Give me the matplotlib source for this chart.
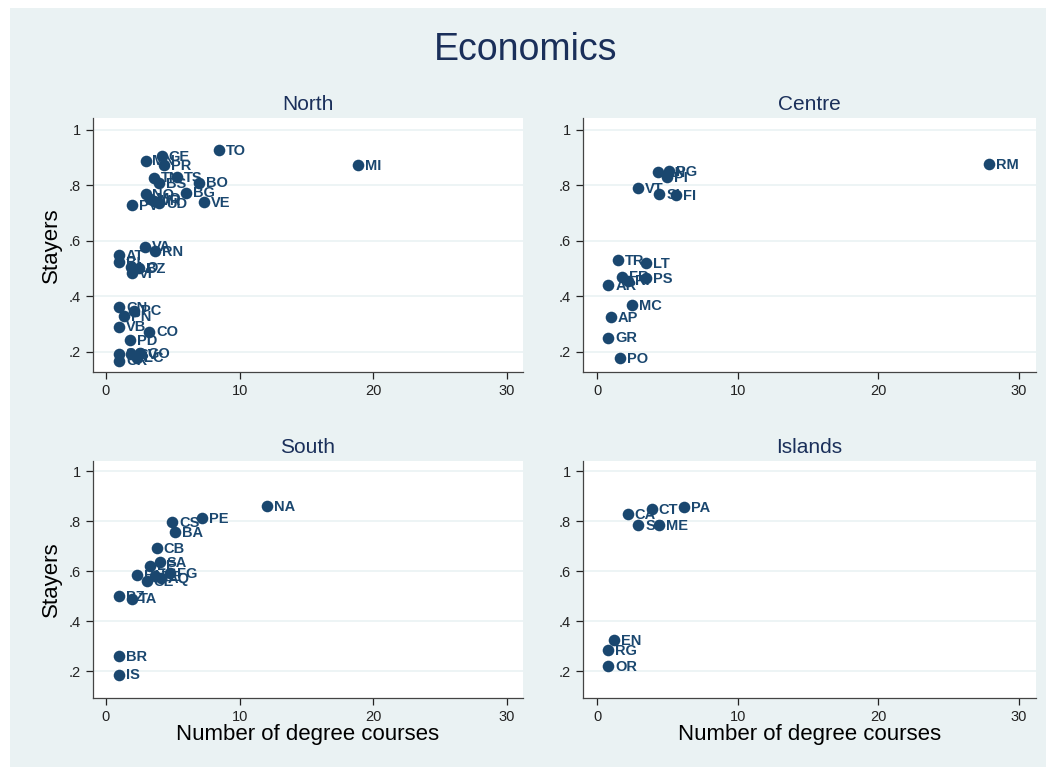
import matplotlib
matplotlib.use("Agg")
import matplotlib.pyplot as plt
from matplotlib.patches import Rectangle

plt.rcParams['font.family'] = ['Liberation Sans', 'DejaVu Sans']

NAVY = '#1a476f'
DARK = '#1a2f5a'
BG = '#eaf2f3'

# stayers share vs number of degree courses, by area
north_lab = ['TO', 'MI', 'GE', 'MN', 'PR', 'TN', 'TS', 'BS', 'BO', 'BG', 'VE', 'PV',
             'NO', 'MO', 'VR', 'UD', 'VA', 'RN', 'AT', 'BI', 'BZ', 'LO', 'VI',
             'CN', 'PC', 'PN', 'VB', 'CO', 'PD', 'GO', 'SV', 'LC', 'SO', 'CR']
north_x = [8.45, 18.85, 4.16, 2.96, 4.36, 3.62, 5.33, 3.99, 6.98, 5.98, 7.35, 1.97,
           2.96, 3.3, 3.6, 4.0, 2.95, 3.66, 0.97, 0.97, 2.5, 1.9, 1.97,
           0.97, 2.12, 1.35, 0.97, 3.22, 1.8, 2.55, 1.9, 2.3, 0.97, 0.97]
north_y = [0.928, 0.874, 0.906, 0.889, 0.874, 0.828, 0.829, 0.807, 0.81, 0.774, 0.738, 0.728,
           0.768, 0.752, 0.745, 0.735, 0.578, 0.562, 0.547, 0.523, 0.501, 0.505, 0.484,
           0.36, 0.347, 0.328, 0.29, 0.272, 0.242, 0.194, 0.19, 0.178, 0.192, 0.167]

centre_lab = ['RM', 'AN', 'PG', 'PI', 'VT', 'SI', 'FI', 'TR', 'LT', 'FR', 'PS', 'RI',
              'AR', 'MC', 'AP', 'GR', 'PO']
centre_x = [27.86, 4.31, 5.1, 5.0, 2.94, 4.43, 5.61, 1.47, 3.48, 1.8, 3.48, 2.23,
            0.8, 2.47, 0.97, 0.8, 1.64]
centre_y = [0.877, 0.848, 0.85, 0.829, 0.79, 0.769, 0.765, 0.531, 0.519, 0.47, 0.465, 0.456,
            0.44, 0.368, 0.324, 0.25, 0.176]

south_lab = ['NA', 'PE', 'CS', 'BA', 'CB', 'SA', 'LE', 'BN', 'TE', 'FG', 'CE', 'AQ',
             'PZ', 'TA', 'BR', 'IS']
south_x = [12.04, 7.18, 4.94, 5.16, 3.81, 4.04, 3.29, 2.34, 3.66, 4.79, 3.04, 4.11,
           0.97, 1.97, 0.97, 0.97]
south_y = [0.86, 0.812, 0.796, 0.756, 0.693, 0.637, 0.622, 0.584, 0.58, 0.593, 0.56, 0.573,
           0.50, 0.49, 0.261, 0.187]

islands_lab = ['PA', 'CT', 'CA', 'SS', 'ME', 'EN', 'RG', 'OR']
islands_x = [6.2, 3.87, 2.18, 2.93, 4.43, 1.21, 0.8, 0.8]
islands_y = [0.856, 0.849, 0.829, 0.785, 0.783, 0.324, 0.286, 0.22]

panels = [
    ('North', north_lab, north_x, north_y),
    ('Centre', centre_lab, centre_x, centre_y),
    ('South', south_lab, south_x, south_y),
    ('Islands', islands_lab, islands_x, islands_y),
]

W, H = 1052, 773
fig = plt.figure(figsize=(W / 100, H / 100), dpi=100)
fig.patch.set_facecolor('white')
fig.patches.append(Rectangle((10 / W, 6 / H), (W - 16) / W, (H - 14) / H,
                             transform=fig.transFigure, facecolor=BG,
                             edgecolor='none', zorder=-10))

# axes boxes in pixels: left, top, right, bottom
boxes = [(92.6, 118, 523, 372), (583, 118, 1036, 372),
         (92.6, 461, 523, 698), (583, 461, 1036, 698)]
ylims = [(0.126, 1.043), (0.126, 1.043), (0.094, 1.04), (0.094, 1.04)]

for i, ((name, lab, xs, ys), (l, t, r, b)) in enumerate(zip(panels, boxes)):
    ax = fig.add_axes([l / W, 1 - b / H, (r - l) / W, (b - t) / H])
    ax.set_facecolor('white')
    ax.scatter(xs, ys, s=70, color=NAVY, zorder=3, linewidths=0)
    for s, x, y in zip(lab, xs, ys):
        ax.annotate(s, (x, y), xytext=(5, -0.5), textcoords='offset points',
                    va='center', ha='left', fontsize=10.5, fontweight='bold',
                    color=NAVY, zorder=4)
    ax.set_xlim(-1, 31.2)
    ax.set_ylim(*ylims[i])
    ax.set_xticks([0, 10, 20, 30])
    ax.set_yticks([1, 0.8, 0.6, 0.4, 0.2])
    ax.set_yticklabels(['1', '.8', '.6', '.4', '.2'])
    ax.grid(axis='y', color=BG, linewidth=1.2, zorder=0)
    ax.set_axisbelow(True)
    for sp in ['top', 'right']:
        ax.spines[sp].set_visible(False)
    for sp in ['left', 'bottom']:
        ax.spines[sp].set_color('#444444')
        ax.spines[sp].set_linewidth(0.9)
    ax.tick_params(colors='#222222', labelsize=10.5, length=5, width=0.9)
    ax.set_title(name, fontsize=15, color=DARK, pad=6)
    if i % 2 == 0:
        ax.set_ylabel('Stayers', fontsize=16, color='black', labelpad=5)
    if i >= 2:
        ax.set_xlabel('Number of degree courses', fontsize=16, color='black', labelpad=0)

fig.text(0.5, 1 - 50 / H, 'Economics', ha='center', va='center',
         fontsize=27, color=DARK)

fig.savefig('out.png', dpi=100, facecolor=fig.get_facecolor())
